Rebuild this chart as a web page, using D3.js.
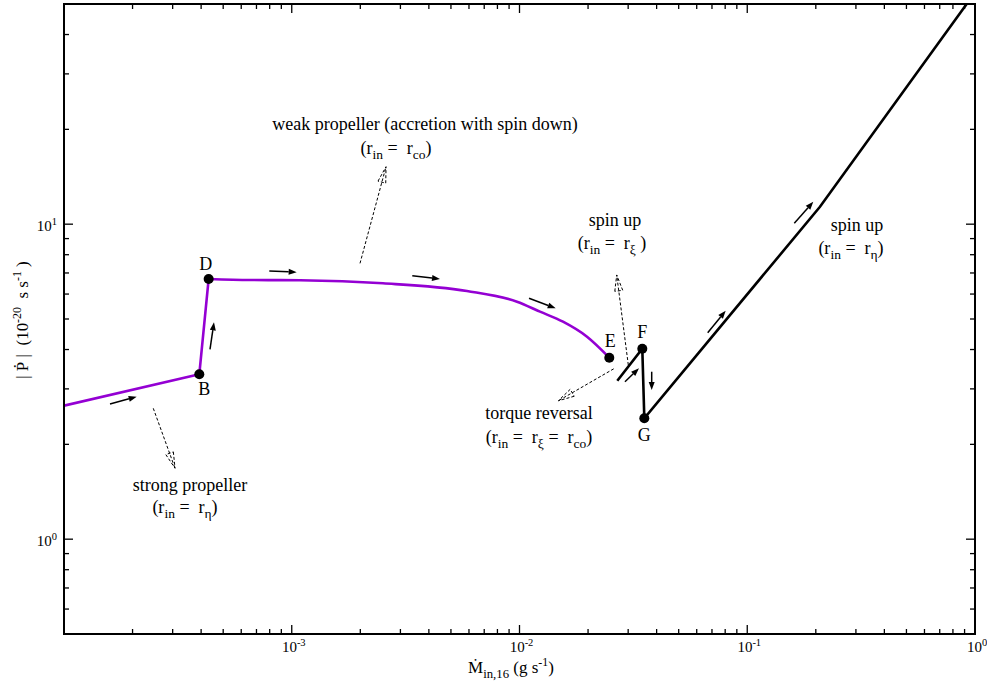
<!DOCTYPE html>
<html><head><meta charset="utf-8">
<script src="https://cdn.jsdelivr.net/npm/d3@7"></script>
<style>
body{margin:0;background:#fff}
svg{display:block}
</style>
</head><body>
<svg id="c" width="987" height="683" font-family="'Liberation Serif', 'Times New Roman', 'DejaVu Serif', serif"></svg>
<script>
// ---------- data ----------
const xDomain = [1e-4, 1];
const yDomain = [0.5, 50];
const xLabelExps = [-3, -2, -1, 0];
const yLabelExps = [0, 1];

// purple branch: strong propeller -> B -> D
const strongX = [1e-4, 3.927e-4, 4.317e-4];
const strongY = [2.654, 3.337, 6.699];
// purple branch: weak propeller D -> E
const weakX = [4.317e-4, 6.556e-4, 1.087e-3, 2.516e-3, 5.88e-3, 9.75e-3, 0.0123, 0.01552, 0.01979, 0.02479];
const weakY = [6.699, 6.649, 6.635, 6.49, 6.137, 5.675, 5.275, 4.902, 4.393, 3.769];

// black branch: torque reversal -> F -> G -> spin up
const blackX = [0.02688, 0.03461, 0.03532, 0.2086, 0.9194];
const blackY = [3.185, 4.025, 2.419, 11.36, 50.0];

// labelled points
const pointNames = ["B", "D", "E", "F", "G"];
const pointX = [3.927e-4, 4.317e-4, 0.02479, 0.03461, 0.03532];
const pointY = [3.337, 6.699, 3.769, 4.025, 2.419];

// direction arrows (start -> end), data units
const arrowX0 = [1.592e-4, 4.376e-4, 7.97e-4, 3.383e-3, 0.01101, 0.02905, 0.03806, 0.06704, 0.1609];
const arrowY0 = [2.687, 4.007, 7.10, 6.865, 5.818, 3.162, 3.401, 4.523, 10.06];
const arrowX1 = [2.085e-4, 4.556e-4, 1.051e-3, 4.476e-3, 0.01442, 0.03347, 0.03806, 0.08040, 0.1950];
const arrowY1 = [2.834, 4.881, 7.04, 6.699, 5.408, 3.487, 2.976, 5.312, 11.79];

// dashed pointer arrows (start -> head), data units
const dashX0 = [2.466e-4, 1.994e-3, 0.03004, 0.02592];
const dashY0 = [2.603, 7.51, 3.573, 3.474];
const dashX1 = [3.073e-4, 2.594e-3, 0.02672, 0.01481];
const dashY1 = [1.679, 15.22, 6.899, 2.750];

// ---------- layout ----------
const svg = d3.select("#c");
const L = 64, R = 975, T = 4, B = 634;
const x = d3.scaleLog().domain(xDomain).range([L, R]);
const y = d3.scaleLog().domain(yDomain).range([B, T]);

function rich(g, px, py, parts, anchor, size, rotate) {
  const t = g.append("text")
    .attr("x", px).attr("y", py)
    .attr("text-anchor", anchor)
    .attr("font-size", size)
    .attr("xml:space", "preserve")
    .style("white-space", "pre");
  if (rotate) t.attr("transform", `rotate(${rotate},${px},${py})`);
  parts.forEach(p => {
    const s = t.append("tspan").text(p.t);
    if (p.sub) s.attr("font-size", size * 0.75).attr("baseline-shift", -size * 0.28);
    if (p.sup) s.attr("font-size", size * 0.7).attr("baseline-shift", size * 0.42);
  });
  return t;
}

// ---------- ticks ----------
const gt = svg.append("g").attr("stroke", "#000").attr("stroke-width", 1.3);
const xTicksAll = [];
for (let e = -4; e <= 0; e++) for (let m = 1; m <= 9; m++) {
  const v = m * Math.pow(10, e);
  if (v >= xDomain[0] * 0.999 && v <= xDomain[1] * 1.001) xTicksAll.push({v, major: m === 1});
}
const yTicksAll = [];
for (let e = -1; e <= 1; e++) for (let m = 1; m <= 9; m++) {
  const v = m * Math.pow(10, e);
  if (v >= yDomain[0] * 0.999 && v <= yDomain[1] * 1.001) yTicksAll.push({v, major: m === 1});
}
xTicksAll.forEach(d => {
  const len = d.major ? 9 : 5, px = x(d.v);
  gt.append("line").attr("x1", px).attr("x2", px).attr("y1", B).attr("y2", B - len);
  gt.append("line").attr("x1", px).attr("x2", px).attr("y1", T).attr("y2", T + len);
});
yTicksAll.forEach(d => {
  const len = d.major ? 9 : 5, py = y(d.v);
  gt.append("line").attr("x1", L).attr("x2", L + len).attr("y1", py).attr("y2", py);
  gt.append("line").attr("x1", R).attr("x2", R - len).attr("y1", py).attr("y2", py);
});

// tick labels
const gl = svg.append("g");
xLabelExps.forEach(e => {
  rich(gl, x(Math.pow(10, e)) + 2, 652, [{t: "10"}, {t: String(e), sup: true}], "middle", 15);
});
yLabelExps.forEach(e => {
  rich(gl, 57, y(Math.pow(10, e)) + 7, [{t: "10"}, {t: String(e), sup: true}], "end", 15);
});

// axis titles
rich(gl, 511, 673, [{t: "M\u0307"}, {t: "in,16", sub: true}, {t: " (g s"}, {t: "-1", sup: true}, {t: ")"}], "middle", 17);
rich(gl, 28, 320, [{t: "| P\u0307 |  (10"}, {t: "-20", sup: true}, {t: "  s s"}, {t: "-1", sup: true}, {t: " )"}], "middle", 17, -90);

// ---------- curves ----------
const clip = svg.append("clipPath").attr("id", "pa");
clip.append("rect").attr("x", L).attr("y", T).attr("width", R - L).attr("height", B - T);
const line = d3.line().x(d => x(d[0])).y(d => y(d[1]));
const smooth = d3.line().x(d => x(d[0])).y(d => y(d[1])).curve(d3.curveMonotoneX);
const gc = svg.append("g").attr("clip-path", "url(#pa)");
gc.append("path").datum(strongX.map((v, i) => [v, strongY[i]]))
  .attr("d", line).attr("fill", "none").attr("stroke", "#9400d3")
  .attr("stroke-width", 2.6).attr("stroke-linejoin", "round");
gc.append("path").datum(weakX.map((v, i) => [v, weakY[i]]))
  .attr("d", smooth).attr("fill", "none").attr("stroke", "#9400d3")
  .attr("stroke-width", 2.6).attr("stroke-linejoin", "round");
gc.append("path").datum(blackX.map((v, i) => [v, blackY[i]]))
  .attr("d", line).attr("fill", "none").attr("stroke", "#000")
  .attr("stroke-width", 2.6).attr("stroke-linejoin", "miter");

// points
const labelOff = {B: [5, 21], D: [-3, -9], E: [1, -11], F: [0, -11], G: [0, 23]};
pointNames.forEach((n, i) => {
  const px = x(pointX[i]), py = y(pointY[i]);
  svg.append("circle").attr("cx", px).attr("cy", py).attr("r", 5).attr("fill", "#000");
  svg.append("text").attr("x", px + labelOff[n][0]).attr("y", py + labelOff[n][1])
    .attr("text-anchor", "middle").attr("font-size", 18).text(n);
});

// ---------- arrows ----------
const ga = svg.append("g");
arrowX0.forEach((v, i) => {
  const x0 = x(v), y0 = y(arrowY0[i]), x1 = x(arrowX1[i]), y1 = y(arrowY1[i]);
  const a = Math.atan2(y1 - y0, x1 - x0), hl = 8, hw = 3;
  const bx = x1 - hl * Math.cos(a), by = y1 - hl * Math.sin(a);
  ga.append("line").attr("x1", x0).attr("y1", y0).attr("x2", bx).attr("y2", by)
    .attr("stroke", "#000").attr("stroke-width", 1.5);
  const pts = [[x1, y1],
    [bx + hw * Math.sin(a), by - hw * Math.cos(a)],
    [bx - hw * Math.sin(a), by + hw * Math.cos(a)]];
  ga.append("polygon").attr("points", pts.map(p => p.join(",")).join(" ")).attr("fill", "#000");
});

const gd = svg.append("g").attr("fill", "none").attr("stroke", "#000")
  .attr("stroke-width", 1).attr("stroke-dasharray", "3,2");
dashX0.forEach((v, i) => {
  const x0 = x(v), y0 = y(dashY0[i]), x1 = x(dashX1[i]), y1 = y(dashY1[i]);
  const a = Math.atan2(y1 - y0, x1 - x0), hl = 16, hw = 4;
  const bx = x1 - hl * Math.cos(a), by = y1 - hl * Math.sin(a);
  gd.append("line").attr("x1", x0).attr("y1", y0).attr("x2", x1).attr("y2", y1);
  const p1 = [bx + hw * Math.sin(a), by - hw * Math.cos(a)];
  const p2 = [bx - hw * Math.sin(a), by + hw * Math.cos(a)];
  gd.append("path").attr("d", `M${p1[0]},${p1[1]}L${x1},${y1}L${p2[0]},${p2[1]}Z`);
});

// ---------- annotation texts ----------
const ann = svg.append("g");
const fs = 18;
rich(ann, 425, 130, [{t: "weak propeller (accretion with spin down)"}], "middle", fs);
rich(ann, 396, 154, [{t: "(r"}, {t: "in", sub: true}, {t: " =  r"}, {t: "co", sub: true}, {t: ")"}], "middle", fs);
rich(ann, 190, 491, [{t: "strong propeller"}], "middle", fs);
rich(ann, 185, 513, [{t: "(r"}, {t: "in", sub: true}, {t: " =  r"}, {t: "\u03B7", sub: true}, {t: ")"}], "middle", fs);
rich(ann, 615, 226, [{t: "spin up"}], "middle", fs);
rich(ann, 612, 249, [{t: "(r"}, {t: "in", sub: true}, {t: " =  r"}, {t: "\u03BE", sub: true}, {t: " )"}], "middle", fs);
rich(ann, 539, 419, [{t: "torque reversal"}], "middle", fs);
rich(ann, 539, 443, [{t: "(r"}, {t: "in", sub: true}, {t: " =  r"}, {t: "\u03BE", sub: true}, {t: " =  r"}, {t: "co", sub: true}, {t: ")"}], "middle", fs);
rich(ann, 857, 231, [{t: "spin up"}], "middle", fs);
rich(ann, 851, 254, [{t: "(r"}, {t: "in", sub: true}, {t: " =  r"}, {t: "\u03B7", sub: true}, {t: ")"}], "middle", fs);

// frame
svg.append("rect").attr("x", L).attr("y", T).attr("width", R - L).attr("height", B - T)
  .attr("fill", "none").attr("stroke", "#000").attr("stroke-width", 2);
</script>
</body></html>
